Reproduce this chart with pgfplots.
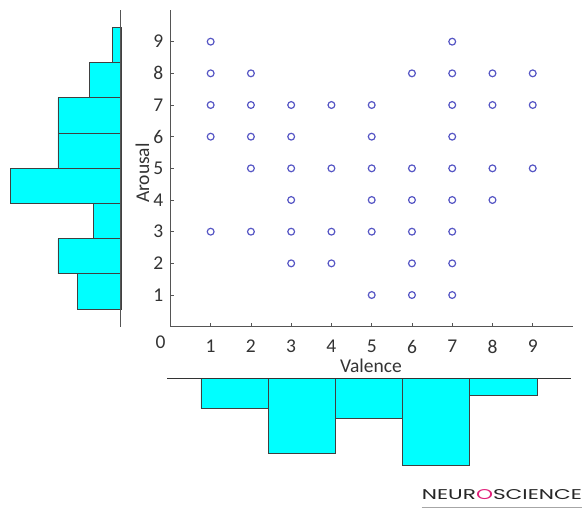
\documentclass[border=0pt]{standalone}
\usepackage{graphicx}
\usepackage{pgfplots}
\pgfplotsset{compat=1.18}
\usepackage{fontspec}
\setmainfont{Carlito}
\newfontfamily\logofont{Poppins}
\definecolor{axgray}{HTML}{555555}
\definecolor{mk}{HTML}{5656C4}
\definecolor{barcyan}{HTML}{00FFFF}
\definecolor{logopink}{HTML}{E0207A}
\begin{document}
\begin{tikzpicture}[x=1pt,y=1pt]
\useasboundingbox (0,0) rectangle (582,510);
\begin{axis}[
 at={(170.4pt,183.3pt)}, anchor=south west, scale only axis,
 width=402.6pt, height=316.7pt,
 xmin=0,xmax=10,ymin=0,ymax=10,
 axis x line*=bottom, axis y line*=left,
 axis line style={axgray, line width=1pt, -},
 xtick={1,...,9}, ytick={1,...,9}, tick align=inside, major tick length=4pt,
 tick style={axgray, line width=0.8pt},
 tick label style={font=\fontsize{19.5}{22}\selectfont, text=black!80, inner sep=0pt},
 xticklabel style={yshift=-13pt}, yticklabel style={xshift=-7pt},
 /pgf/number format/assume math mode=true,
 xlabel={Valence}, ylabel={Arousal},
 label style={font=\fontsize{19.5}{22}\selectfont, text=black!80},
 xlabel style={at={(axis description cs:0.498,-0.124)}, anchor=center},
 ylabel style={at={(axis description cs:-0.0693,0.485)}, anchor=center},
 clip=false,
]
\addplot[only marks, mark=o, mark size=3.4pt, mark options={mk, line width=1.2pt}] coordinates {
 (1,9) (7,9)
 (1,8) (2,8) (6,8) (7,8) (8,8) (9,8)
 (1,7) (2,7) (3,7) (4,7) (5,7) (7,7) (8,7) (9,7)
 (1,6) (2,6) (3,6) (5,6) (7,6)
 (2,5) (3,5) (4,5) (5,5) (6,5) (7,5) (8,5) (9,5)
 (3,4) (5,4) (6,4) (7,4) (8,4)
 (1,3) (2,3) (3,3) (4,3) (5,3) (6,3) (7,3)
 (3,2) (4,2) (6,2) (7,2)
 (5,1) (6,1) (7,1)
};
\node[font=\fontsize{19.5}{22}\selectfont, text=black!80, inner sep=0pt] at (axis cs:-0.246,-0.5) {0};
\end{axis}
% left histogram (Arousal)
\begin{axis}[at={(121pt,183.3pt)}, anchor=south east, scale only axis,
 width=110.3pt, height=317pt, xmin=0, xmax=28, ymin=0, ymax=9,
 x dir=reverse, hide axis, clip=false]
\addplot[xbar, bar width=1, fill=barcyan, draw=black!75, line width=0.8pt] coordinates {
 (11,1) (16,2) (7,3) (28,4) (16,5) (16,6) (8,7) (2.2,8)};
\draw[axgray, line width=1pt] (axis cs:0,0) -- (axis cs:0,9);
\end{axis}
% bottom histogram (Valence)
\begin{axis}[at={(167.3pt,131.7pt)}, anchor=north west, scale only axis,
 width=403.4pt, height=86.7pt, xmin=0, xmax=6, ymin=0, ymax=36,
 y dir=reverse, hide axis, clip=false]
\addplot[ybar, bar width=1, fill=barcyan, draw=black!75, line width=0.8pt] coordinates {
 (1,12.5) (2,31) (3,16.6) (4,36) (5,7)};
\draw[black!80, line width=1pt] (axis cs:0,0) -- (axis cs:6,0);
\end{axis}
\node[anchor=south west, inner sep=0pt] at (421.7,10) {\resizebox{160pt}{10pt}{\logofont\color{black!85}NEUR\textcolor{logopink}{O}SCIENCE}};
\draw[black!35, line width=0.8pt] (421.7,2.5) -- (582,2.5);
\end{tikzpicture}
\end{document}
